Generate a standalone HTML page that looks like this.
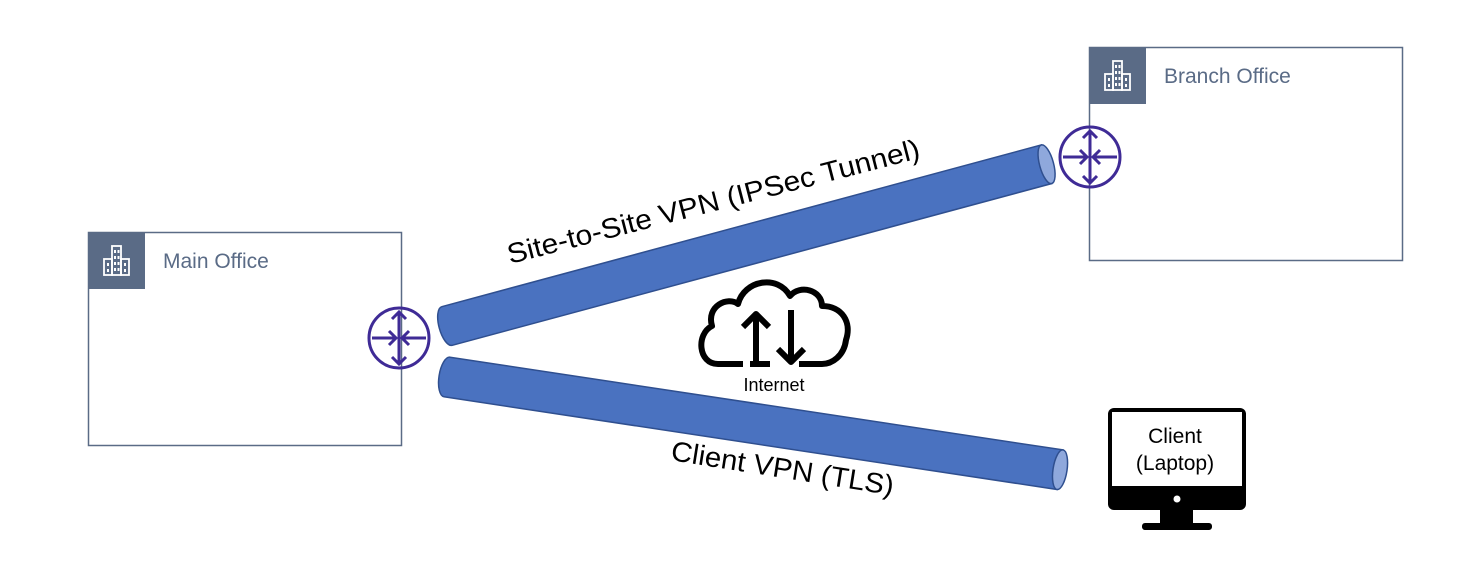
<!DOCTYPE html>
<html><head><meta charset="utf-8"><style>
html,body{margin:0;padding:0;background:#fff;}
svg{display:block;}
text{font-family:"Liberation Sans",sans-serif;}
</style></head><body>
<svg width="1483" height="583" viewBox="0 0 1483 583" xmlns="http://www.w3.org/2000/svg">
<defs>
<g id="bld">
  <rect x="0" y="0" width="57" height="57" fill="#5a6b86"/>
  <g fill="none" stroke="#fff" stroke-width="1.8">
    <rect x="24" y="14" width="9" height="29"/>
    <rect x="16" y="27" width="8" height="16"/>
    <rect x="33" y="27" width="8" height="16"/>
  </g>
  <g fill="#fff">
    <rect x="26" y="18" width="2" height="3"/><rect x="29.5" y="18" width="2" height="3"/>
    <rect x="26" y="24" width="2" height="3"/><rect x="29.5" y="24" width="2" height="3"/>
    <rect x="26" y="30" width="2" height="3"/><rect x="29.5" y="30" width="2" height="3"/>
    <rect x="26" y="36" width="2" height="3"/><rect x="29.5" y="36" width="2" height="3"/>
    <rect x="19" y="31" width="2" height="3"/><rect x="19" y="37" width="2" height="3"/>
    <rect x="36" y="31" width="2" height="3"/><rect x="36" y="37" width="2" height="3"/>
  </g>
</g>
<g id="rtr" fill="none" stroke="#3f2b96" stroke-width="3">
  <circle cx="0" cy="0" r="30"/>
  <line x1="0" y1="-26" x2="0" y2="26"/>
  <polyline points="-7,-19 0,-26 7,-19"/>
  <polyline points="-7,19 0,26 7,19"/>
  <line x1="-27" y1="0" x2="-3" y2="0"/>
  <polyline points="-10,-7 -3,0 -10,7"/>
  <line x1="27" y1="0" x2="3" y2="0"/>
  <polyline points="10,-7 3,0 10,7"/>
</g>
</defs>

<rect x="88.5" y="232.5" width="313" height="213" fill="none" stroke="#5a6b86" stroke-width="1.5"/>
<use href="#bld" x="88" y="232"/>
<text x="163" y="268" font-size="21" fill="#5a6b86">Main Office</text>

<rect x="1089.5" y="47.5" width="313" height="213" fill="none" stroke="#5a6b86" stroke-width="1.5"/>
<use href="#bld" x="1089" y="47"/>
<text x="1164" y="83" font-size="21" fill="#5a6b86">Branch Office</text>

<g transform="translate(447,326) rotate(-15.1)">
  <path d="M0,-20 L621,-20 L621,20 L0,20 A8,20 0 0 1 0,-20 Z" fill="#4a72c0" stroke="#2f4f8f" stroke-width="1.5"/>
  <ellipse cx="621" cy="0" rx="7" ry="20" fill="#8fa8dc" stroke="#2f4f8f" stroke-width="1.5"/>
</g>
<g transform="translate(447,377) rotate(8.6)">
  <path d="M0,-20 L620,-20 L620,20 L0,20 A8,20 0 0 1 0,-20 Z" fill="#4a72c0" stroke="#2f4f8f" stroke-width="1.5"/>
  <ellipse cx="620" cy="0" rx="7" ry="20" fill="#8fa8dc" stroke="#2f4f8f" stroke-width="1.5"/>
</g>

<use href="#rtr" x="399" y="338"/>
<use href="#rtr" x="1090" y="157"/>

<text transform="translate(510,264) rotate(-14.5)" font-size="28" textLength="425" lengthAdjust="spacingAndGlyphs" fill="#000">Site-to-Site VPN (IPSec Tunnel)</text>
<text transform="translate(670,460) rotate(9)" font-size="28" textLength="225" lengthAdjust="spacingAndGlyphs" fill="#000">Client VPN (TLS)</text>

<g fill="none" stroke="#000" stroke-width="6" stroke-linejoin="round" stroke-linecap="butt">
  <path d="M743,364 L718,364 C698,364 696,334 712,326 C706,306 728,296 738,304 C744,280 778,274 790,296 C800,284 822,290 822,306 C842,306 852,322 846,340 C844,356 832,364 822,364 L799,364"/>
  <line x1="750" y1="364" x2="770" y2="364"/>
  <line x1="756" y1="366" x2="756" y2="314"/>
  <polyline points="743,327 756,314 769,327"/>
  <line x1="791" y1="310" x2="791" y2="362"/>
  <polyline points="778,349 791,362 804,349"/>
</g>
<text x="774" y="391" font-size="18" text-anchor="middle" fill="#000">Internet</text>

<rect x="1108" y="408" width="138" height="102" rx="6" fill="#000"/>
<rect x="1112" y="412" width="130" height="74" fill="#fff"/>
<circle cx="1177" cy="499" r="3.5" fill="#fff"/>
<rect x="1160" y="510" width="33" height="15" fill="#000"/>
<rect x="1142" y="523" width="70" height="7" rx="3" fill="#000"/>
<text x="1175" y="443" font-size="21" text-anchor="middle" fill="#000">Client</text>
<text x="1175" y="470" font-size="21" text-anchor="middle" fill="#000">(Laptop)</text>
</svg>
</body></html>
